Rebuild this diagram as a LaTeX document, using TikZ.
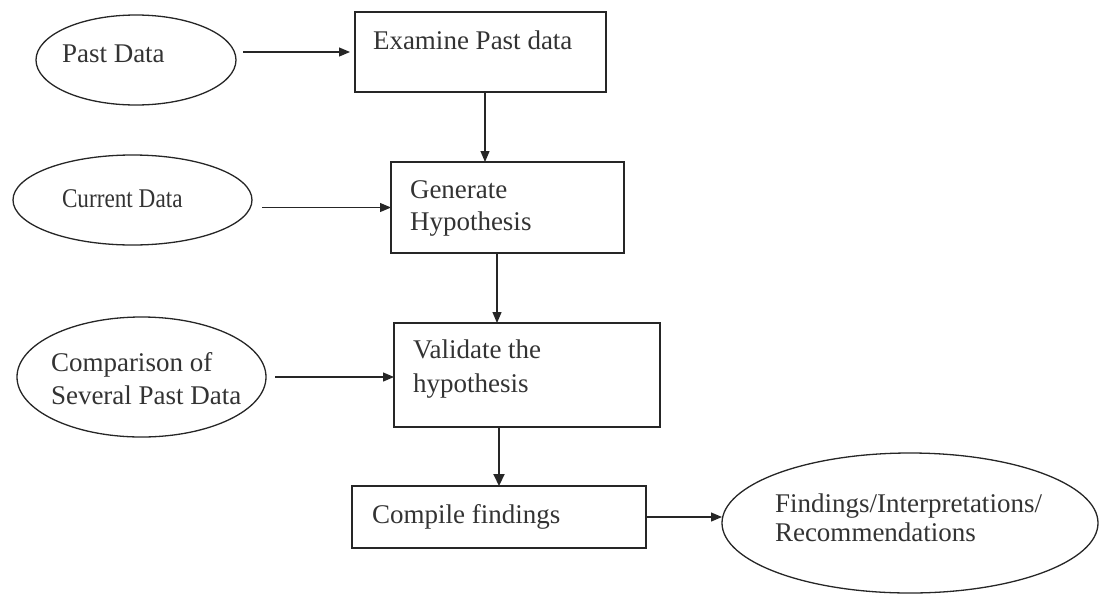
\documentclass[tikz,border=0pt]{standalone}
\usepackage{fontspec}
\setmainfont{Liberation Serif}
\newfontfamily\narrowserif{Liberation Serif}[FakeStretch=0.86]
\usetikzlibrary{shapes.geometric,arrows.meta}
\tikzset{
  inkline/.style={draw=black!85, line width=1.3pt},
  procbox/.style={rectangle, inkline, line width=1.6pt, inner sep=0pt, outer sep=0pt},
  databubble/.style={ellipse, inkline, inner sep=0pt, outer sep=0pt},
  words/.style={anchor=base west, inner sep=0pt, outer sep=0pt, text=black!80,
                font=\fontsize{27}{32}\selectfont},
  flow/.style={draw=black!85, line width=1.2pt, -{Triangle[length=11pt,width=9pt]}},
  boldflow/.style={flow, line width=2pt, -{Triangle[length=12pt,width=11pt]}},
}
\begin{document}
\begin{tikzpicture}[x=1pt,y=-1pt]
\useasboundingbox (0,0) rectangle (1107,595);

% data sources (ellipses)
\node[databubble, minimum width=200pt, minimum height=90pt]  (pastd) at (136,60) {};
\node[databubble, minimum width=239pt, minimum height=90pt]  (curd)  at (132.5,200) {};
\node[databubble, minimum width=249pt, minimum height=120pt] (comp)  at (141.5,377) {};
\node[databubble, minimum width=376pt, minimum height=140pt] (find)  at (910,523) {};

% process steps (boxes)
\node[procbox, minimum width=251pt, minimum height=80pt]  (exam)  at (480.5,52) {};
\node[procbox, minimum width=233pt, minimum height=91pt]  (gen)   at (507.5,207.5) {};
\node[procbox, minimum width=266pt, minimum height=104pt] (valid) at (527,375) {};
\node[procbox, minimum width=294pt, minimum height=62pt]  (compl) at (499,517) {};

% labels
\node[words] (pastd-t) at (62,62) {Past Data};
\node[words, font=\narrowserif\fontsize{27}{32}\selectfont] (curd-t) at (62,207) {Current Data};
\node[words] (comp-t1) at (51,371) {Comparison of};
\node[words] (comp-t2) at (51,404) {Several Past Data};
\node[words] (find-t1) at (775,512) {Findings/Interpretations/};
\node[words] (find-t2) at (775,541) {Recommendations};

\node[words] (exam-t)   at (373,49)  {Examine Past data};
\node[words] (gen-t1)   at (410,198) {Generate};
\node[words] (gen-t2)   at (410,230) {Hypothesis};
\node[words] (valid-t1) at (413,358) {Validate the};
\node[words] (valid-t2) at (413,392) {hypothesis};
\node[words] (compl-t)  at (372,523) {Compile findings};

% connectors
\draw[flow] ([xshift=7pt]pastd.east |- exam.west) -- ([xshift=-5pt]exam.west);
\draw[flow] ([xshift=10pt]curd.east |- gen.west) -- (gen.west);
\draw[flow] ([xshift=9pt]comp.east) -- (comp.east -| valid.west);
\draw[flow] (compl.east) -- (find.west |- compl.east);

\draw[flow] ([xshift=4.5pt]exam.south) -- ([xshift=4.5pt]exam.south |- gen.north);
\draw[flow] ([xshift=-10.5pt]gen.south) -- ([xshift=-10.5pt]gen.south |- valid.north);
\draw[boldflow] (compl.north |- valid.south) -- (compl.north);
\end{tikzpicture}
\end{document}
